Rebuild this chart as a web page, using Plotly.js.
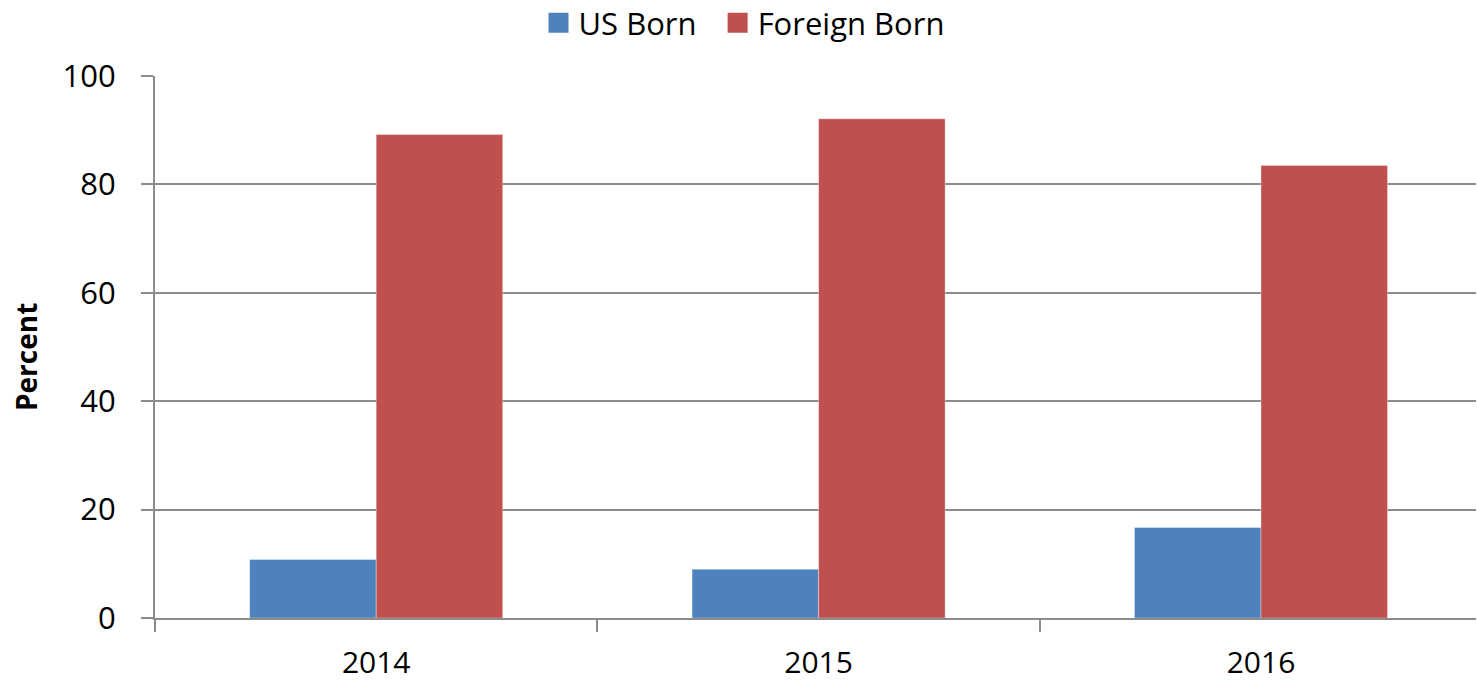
<!DOCTYPE html>
<html>
<head>
<meta charset="utf-8">
<script src="https://cdn.plot.ly/plotly-3.0.1.min.js"></script>
<style>html,body{margin:0;padding:0;background:#fff;}#chart{width:1477px;height:682px;}</style>
</head>
<body>
<div id="chart"></div>
<script>
var years = ["2014", "2015", "2016"];
var usBorn = [10.8, 9.0, 16.7];
var foreignBorn = [89.2, 92.1, 83.5];
var seriesNames = ["US Born", "Foreign Born"];
var colors = ["#4F81BD", "#C0504D"];
var yTicks = [0, 20, 40, 60, 80, 100];
var yTitle = "Percent";

var edge = {width: 1, color: "rgba(255,255,255,0.35)"};
var traces = [
  {type: "bar", x: years, y: usBorn, name: seriesNames[0], marker: {color: colors[0], line: edge}, showlegend: false, legendgroup: "us"},
  {type: "bar", x: years, y: foreignBorn, name: seriesNames[1], marker: {color: colors[1], line: edge}, showlegend: false, legendgroup: "fb"},
  {type: "scatter", mode: "markers", x: [null], y: [null], name: seriesNames[0] + "\u00a0\u00a0", legendgroup: "us", marker: {symbol: "square", size: 16, color: colors[0], line: {width: 4, color: colors[0]}}},
  {type: "scatter", mode: "markers", x: [null], y: [null], name: seriesNames[1], legendgroup: "fb", marker: {symbol: "square", size: 16, color: colors[1], line: {width: 4, color: colors[1]}}}
];

var gridColor = "#8c8c8c";
var layout = {
  width: 1477, height: 682,
  margin: {l: 155, r: 1, t: 76, b: 64, pad: 0},
  paper_bgcolor: "#fff", plot_bgcolor: "#fff",
  font: {family: "Open Sans, sans-serif", size: 31, color: "#000"},
  barmode: "group", bargap: 0.428, bargroupgap: 0,
  showlegend: true,
  legend: {orientation: "h", xref: "container", yref: "container", x: 744 / 1477, xanchor: "center", y: 0.966, yanchor: "middle",
           font: {size: 31, color: "#000"}, itemclick: false},
  xaxis: {type: "category", categoryarray: years, range: [-0.5, 2.486], tickson: "boundaries", ticks: "outside", ticklen: 12, tickwidth: 2, tickcolor: gridColor,
          showline: true, linecolor: gridColor, linewidth: 2, showgrid: false, zeroline: false, tickfont: {size: 30}, ticklabelstandoff: 17, fixedrange: true},
  yaxis: {range: [0, 100], tickvals: yTicks, ticktext: yTicks.map(String), ticks: "outside", ticklen: 12, tickwidth: 2, tickcolor: gridColor,
          showline: true, linecolor: gridColor, linewidth: 2, showgrid: true, gridcolor: gridColor, gridwidth: 2, zeroline: false,
          tickfont: {size: 31}, ticklabelstandoff: 19, fixedrange: true},
  annotations: [{text: "<b>" + yTitle + "</b>", textangle: -90, xref: "paper", yref: "paper",
                 x: (26 - 155) / 1321, xanchor: "center", y: (618 - 357) / 542, yanchor: "middle",
                 showarrow: false, font: {size: 28, color: "#000"}}]
};

Plotly.newPlot("chart", traces, layout, {displayModeBar: false, staticPlot: true});
</script>
</body>
</html>
